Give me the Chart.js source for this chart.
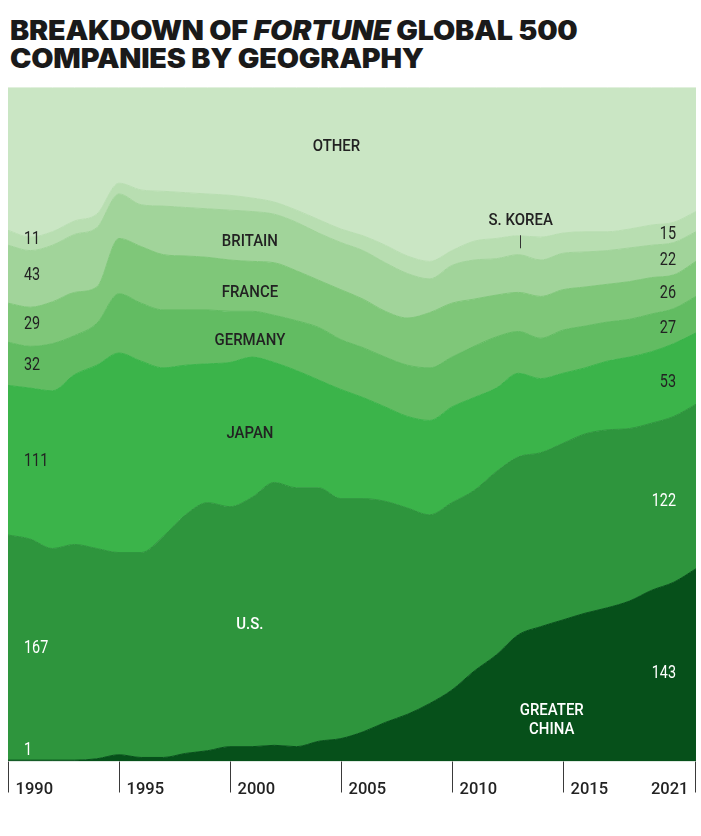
<!DOCTYPE html>
<html>
<head>
<meta charset="utf-8">
<title>Fortune Global 500 by geography</title>
<script src="https://cdn.jsdelivr.net/npm/chart.js@4.4.0/dist/chart.umd.min.js"></script>
<style>
  body { margin: 0; background: #fff; }
  #wrap { position: relative; width: 701px; height: 836px; overflow: hidden; }
  h1 {
    position: absolute; left: 10px; top: 16px; margin: 0;
    font-family: Inter, Roboto, sans-serif; font-weight: 900;
    font-size: 26.5px; line-height: 28px; color: #1a1a1a; letter-spacing: -0.2px;
    transform: scaleX(1.085); transform-origin: left top; white-space: nowrap;
  }
  #chartCanvas { position: absolute; left: 0; top: 80px; }
</style>
</head>
<body>
<div id="wrap">
  <h1>BREAKDOWN OF <i>FORTUNE</i> GLOBAL 500<br>COMPANIES BY GEOGRAPHY</h1>
  <canvas id="chartCanvas" width="701" height="740"></canvas>
</div>
<script>
// number of Fortune Global 500 companies per region
const years = [1990,1991,1992,1993,1994,1995,1996,1997,1998,1999,2000,2001,2002,2003,2004,2005,
               2006,2007,2008,2009,2010,2011,2012,2013,2014,2015,2016,2017,2018,2019,2020,2021];
const greaterChina = [1,1,1,1,2,5,3,3,6,8,11,11,12,11,15,17,22,29,35,43,53,67,79,94,100,105,110,114,119,127,133,143];
const unitedStates = [167,164,157,160,156,150,152,164,177,184,178,185,195,192,188,178,173,164,153,140,139,134,136,132,129,131,133,132,128,124,123,122];
const japan        = [111,112,117,126,136,148,142,125,111,103,107,104,89,87,80,81,75,70,68,70,71,69,62,62,55,52,49,51,53,53,54,53];
const germany      = [32,31,35,29,31,44,43,43,41,40,38,34,35,37,39,37,37,37,38,39,37,38,38,31,30,32,31,29,28,28,26,27];
const france       = [29,29,31,32,27,41,42,41,40,39,38,37,39,37,35,37,36,34,35,41,40,35,31,29,31,30,29,28,28,27,25,26];
const britain      = [43,42,42,43,44,33,31,36,36,36,37,37,36,36,35,35,36,36,33,25,28,29,27,28,27,27,26,25,25,24,24,22];
const southKorea   = [11,10,10,10,10,8,11,11,11,11,11,10,9,9,10,10,11,13,13,13,11,14,15,14,17,15,15,14,14,15,15,15];
const other        = [106,111,107,99,94,71,76,77,78,79,80,82,85,91,98,105,110,117,125,129,121,114,112,110,111,108,107,107,105,102,100,92];

const tickYears = [1990, 1995, 2000, 2005, 2010, 2015, 2021];

// layers bottom to top
const layers = [
  { key: 'GREATER CHINA', data: greaterChina, color: '#06501a', ink: '#ffffff', ends: true },
  { key: 'U.S.',          data: unitedStates, color: '#2e953d', ink: '#ffffff', ends: true },
  { key: 'JAPAN',         data: japan,        color: '#3bb44a', ink: '#222222', ends: true },
  { key: 'GERMANY',       data: germany,      color: '#62bc62', ink: '#222222', ends: true },
  { key: 'FRANCE',        data: france,       color: '#7fc779', ink: '#222222', ends: true },
  { key: 'BRITAIN',       data: britain,      color: '#a1d49a', ink: '#222222', ends: true },
  { key: 'S. KOREA',      data: southKorea,   color: '#b8deb1', ink: '#222222', ends: true },
  { key: 'OTHER',         data: other,        color: '#cae6c4', ink: '#222222', ends: false }
];

// where the layer names sit, in chart units (year, companies)
const nameSpots = [
  { text: 'OTHER',   yr: 2004.8, v: 456,   ink: '#222' },
  { text: 'S. KOREA',yr: 2013.1, v: 401.5, ink: '#222', leader: true },
  { text: 'BRITAIN', yr: 2000.9, v: 385.5, ink: '#222' },
  { text: 'FRANCE',  yr: 2000.9, v: 347.5, ink: '#222' },
  { text: 'GERMANY', yr: 2000.9, v: 312.5, ink: '#222' },
  { text: 'JAPAN',   yr: 2000.9, v: 243.5, ink: '#222' },
  { text: 'U.S.',    yr: 2000.9, v: 101.5, ink: '#fff' },
  { text: 'GREATER', yr: 2014.5, v: 37.5,  ink: '#fff' },
  { text: 'CHINA',   yr: 2014.5, v: 23.5,  ink: '#fff' }
];

function drawText(ctx, s, px, py, align, font, color, sx) {
  ctx.save();
  ctx.font = font;
  ctx.fillStyle = color;
  ctx.textAlign = align;
  ctx.textBaseline = 'middle';
  ctx.translate(px, py);
  ctx.scale(sx, 1);
  ctx.fillText(s, 0, 0);
  ctx.restore();
}

const decor = {
  id: 'decor',
  afterDatasetsDraw(chart) {
    const { ctx, chartArea, scales: { x, y } } = chart;
    ctx.save();

    // year ticks under the plot
    ctx.strokeStyle = '#3a3a3a';
    ctx.lineWidth = 1;
    tickYears.forEach((yr, i) => {
      const last = i === tickYears.length - 1;
      let px = Math.round(x.getPixelForValue(yr));
      px = last ? px - 0.5 : px + 0.5;
      ctx.beginPath();
      ctx.moveTo(px, chartArea.bottom);
      ctx.lineTo(px, chartArea.bottom + 31);
      ctx.stroke();
      ctx.save();
      ctx.font = '500 16.5px Roboto';
      ctx.fillStyle = '#222';
      ctx.textAlign = last ? 'right' : 'left';
      ctx.textBaseline = 'alphabetic';
      ctx.fillText(String(yr), last ? px - 7 : px + 7, chartArea.bottom + 32);
      ctx.restore();
    });

    // start / end values
    let lo0 = 0, lo1 = 0;
    const n = years.length;
    layers.forEach(l => {
      const a = l.data[0], b = l.data[n - 1], b2 = l.data[n - 2];
      if (l.ends) {
        const yl = y.getPixelForValue(Math.max(lo0 + a / 2 - 1, 8));
        drawText(ctx, String(a), chartArea.left + 16, yl, 'left', '400 18px Roboto', l.ink, 0.8);
        const yr = y.getPixelForValue(lo1 + b2 / 2 - 1.5);
        drawText(ctx, String(b), chartArea.right - 20, yr, 'right', '400 18px Roboto', l.ink, 0.8);
      }
      lo0 += a;
      lo1 += b2;
    });

    // layer names
    nameSpots.forEach(s => {
      const px = x.getPixelForValue(s.yr);
      const py = y.getPixelForValue(s.v);
      drawText(ctx, s.text, px, py, 'center', '500 17px Roboto', s.ink, 0.88);
      if (s.leader) {
        ctx.strokeStyle = '#333';
        ctx.beginPath();
        ctx.moveTo(Math.round(px) - 0.5, py + 15);
        ctx.lineTo(Math.round(px) - 0.5, py + 28);
        ctx.stroke();
      }
    });
    ctx.restore();
  }
};

const datasets = layers.map((l, i) => ({
  label: l.key,
  data: years.map((yr, j) => ({ x: yr, y: l.data[j] })),
  backgroundColor: l.color,
  borderColor: l.color,
  borderWidth: 1,
  pointRadius: 0,
  fill: i === 0 ? 'origin' : '-1',
  cubicInterpolationMode: 'monotone'
}));

new Chart(document.getElementById('chartCanvas').getContext('2d'), {
  type: 'line',
  data: { datasets: datasets },
  options: {
    responsive: false,
    animation: false,
    layout: { padding: { left: 8, right: 5, top: 7.5, bottom: 58.5 } },
    plugins: { legend: { display: false }, tooltip: { enabled: false } },
    scales: {
      x: { type: 'linear', min: 1990, max: 2021, display: false },
      y: { stacked: true, min: 0, max: 500, display: false }
    }
  },
  plugins: [decor]
});
</script>
</body>
</html>
